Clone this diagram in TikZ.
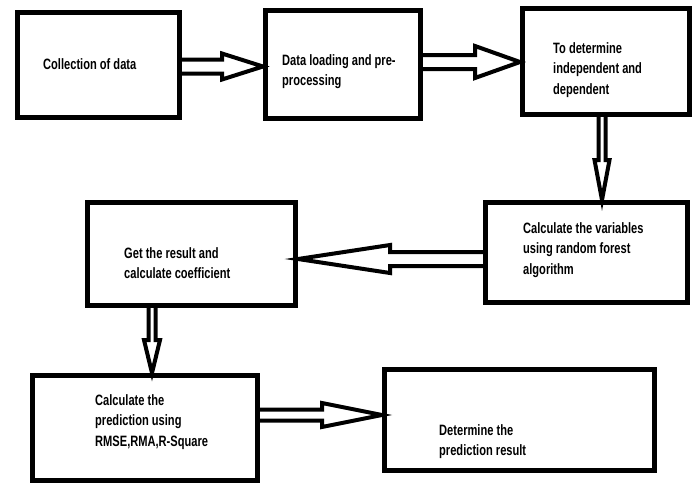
\documentclass[tikz,border=0pt]{standalone}
\usepackage{fontspec}
\setmainfont{Liberation Sans}[FakeStretch=0.74]
\usetikzlibrary{calc}
\tikzset{
  box/.style={draw=black, line width=5pt, fill=none, inner sep=0pt},
  lbl/.style={anchor=north west, inner sep=0pt, align=left,
    font=\fontsize{15pt}{20.5pt}\selectfont\bfseries},
  arr/.style={draw=black, line width=4pt, line join=miter}
}
% right-pointing block arrow: from, to, yc, half shaft, half head, head length
\newcommand\rarrow[6]{%
  \draw[arr] (#1.east |- 0,#3-#4) -- ($(#2.west |- 0,#3-#4)+(-#6,0)$)
    -- ($(#2.west |- 0,#3-#5)+(-#6,0)$) -- (#2.west |- 0,#3)
    -- ($(#2.west |- 0,#3+#5)+(-#6,0)$) -- ($(#2.west |- 0,#3+#4)+(-#6,0)$)
    -- (#1.east |- 0,#3+#4);}
% left-pointing block arrow
\newcommand\larrow[6]{%
  \draw[arr] (#1.west |- 0,#3-#4) -- ($(#2.east |- 0,#3-#4)+(#6,0)$)
    -- ($(#2.east |- 0,#3-#5)+(#6,0)$) -- (#2.east |- 0,#3)
    -- ($(#2.east |- 0,#3+#5)+(#6,0)$) -- ($(#2.east |- 0,#3+#4)+(#6,0)$)
    -- (#1.west |- 0,#3+#4);}
% down-pointing block arrow: from, to, xc, half shaft, half head, head length
\newcommand\darrow[6]{%
  \draw[arr] (#1.south -| #3-#4,0) -- ($(#2.north -| #3-#4,0)+(0,-#6)$)
    -- ($(#2.north -| #3-#5,0)+(0,-#6)$) -- (#2.north -| #3,0)
    -- ($(#2.north -| #3+#5,0)+(0,-#6)$) -- ($(#2.north -| #3+#4,0)+(0,-#6)$)
    -- (#1.south -| #3+#4,0);}
\begin{document}
\begin{tikzpicture}[x=1pt, y=-1pt]
\useasboundingbox (0,0) rectangle (698,485);
% boxes
\node[box, minimum width=162pt, minimum height=105pt] (b1) at (98.5,65) {};
\node[box, minimum width=155pt, minimum height=108pt] (b2) at (343,64.5) {};
\node[box, minimum width=167pt, minimum height=106pt] (b3) at (606,61.5) {};
\node[box, minimum width=202pt, minimum height=100pt] (b4) at (586.5,252.5) {};
\node[box, minimum width=208pt, minimum height=103pt] (b5) at (191.5,254) {};
\node[box, minimum width=225pt, minimum height=105pt] (b6) at (145,428) {};
\node[box, minimum width=270pt, minimum height=101pt] (b7) at (519.5,420) {};
% texts
\node[lbl] (t1) at (43,58) {Collection of data};
\node[lbl] (t2) at (282,54) {Data loading and pre-\\processing};
\node[lbl] (t3) at (553,42) {To determine\\independent and\\dependent};
\node[lbl] (t4) at (523,222) {Calculate the variables\\using random forest\\algorithm};
\node[lbl] (t5) at (124,247) {Get the result and\\calculate coefficient};
\node[lbl] (t6) at (95,394) {Calculate the\\prediction using\\RMSE,RMA,R-Square};
\node[lbl] (t7) at (439,424) {Determine the\\prediction result};
% arrows
\rarrow{b1}{b2}{66.5}{7}{13}{41}
\rarrow{b2}{b3}{62}{7}{16}{45}
\darrow{b3}{b4}{602}{3.5}{7.5}{40}
\larrow{b4}{b5}{259}{7}{14}{92}
\darrow{b5}{b6}{152}{3.5}{8}{33}
\rarrow{b6}{b7}{415}{5.5}{12}{60}
\end{tikzpicture}
\end{document}
